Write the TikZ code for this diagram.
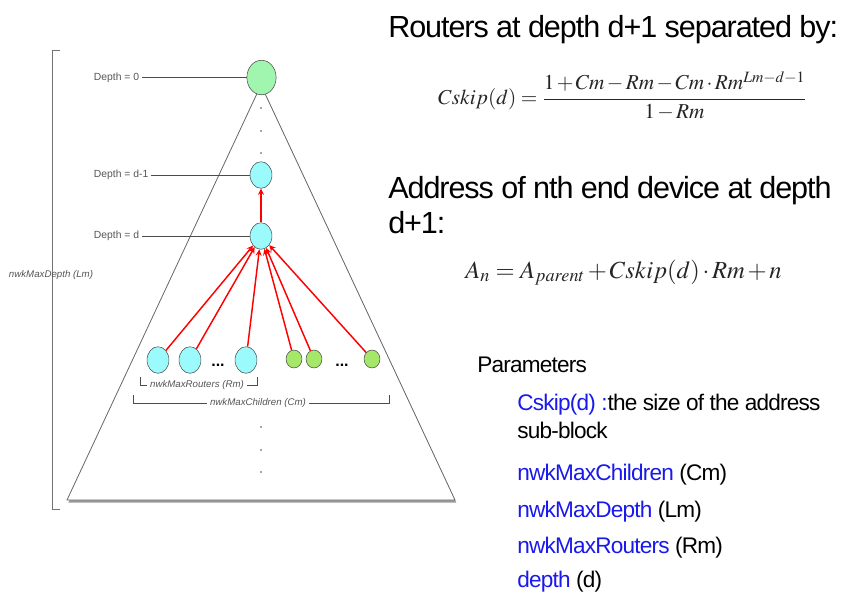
\documentclass[tikz,border=0pt]{standalone}
\usepackage{amsmath}
\usepackage{mathptmx}
\usepackage[no-math]{fontspec}
\setmainfont{Liberation Sans}
\newfontfamily\tightfont[LetterSpace=-3.5]{Liberation Sans}
\usetikzlibrary{shapes.geometric,shadows}
\definecolor{rootgreen}{RGB}{160,245,175}
\definecolor{routercyan}{RGB}{155,250,252}
\definecolor{endgreen}{RGB}{165,232,105}
\definecolor{paramblue}{RGB}{25,25,235}
\definecolor{labelgray}{RGB}{85,85,85}
\newcommand\tightmath{\medmuskip=2mu\relax\thickmuskip=4mu\relax}
\begin{document}
\begin{tikzpicture}[
    x=0.02646cm, y=-0.02646cm,
    dev/.style={ellipse,draw=black!70,inner sep=0pt},
    root/.style={dev,fill=rootgreen,minimum width=22pt,minimum height=26pt},
    router/.style={dev,fill=routercyan,minimum width=16.5pt,minimum height=20pt},
    enddev/.style={dev,fill=endgreen,minimum width=12pt,minimum height=13.5pt},
    depthlbl/.style={anchor=west,inner sep=2pt,text=labelgray,font=\fontsize{7.8}{9}\selectfont},
    brlbl/.style={inner sep=2pt,text=labelgray,font=\fontsize{7.3}{9}\selectfont\itshape},
    more/.style={inner sep=0pt,font=\fontsize{12}{14}\selectfont\bfseries},
    lead/.style={draw=black!70,line width=0.6pt},
    link/.style={->,red,line width=1.1pt},
    big/.style={anchor=base west,inner sep=0pt,font=\fontsize{23}{26}\selectfont\tightfont},
    param/.style={anchor=base west,inner sep=0pt,font=\fontsize{17}{20}\selectfont\tightfont},
    formula/.style={inner sep=0pt,text=black!85},
    >=stealth
]
\useasboundingbox (0,0) rectangle (844,596);

% tree outline
\filldraw[fill=white,draw=black!60,line width=0.6pt,
    drop shadow={shadow xshift=1pt,shadow yshift=-2pt,opacity=0.8}]
    (261,85) -- (67,500) -- (455,500) -- cycle;
\foreach \y in {108,131,153,427,450,472}
    \fill[black!70] (261,\y) circle (0.6pt);

% depth bracket
\draw[lead,draw=black!55] (60,50) -- (52,50) -- (52,509) -- (60,509);
\node[brlbl] (lm) at (51,275) {nwkMaxDepth (Lm)};

% devices
\node[root] (r0) at (261.5,77.5) {};
\node[router] (rp) at (261,175) {};
\node[router] (rd) at (261,236) {};
\node[router] (c1) at (158,360) {};
\node[router] (c2) at (190,360) {};
\node[more] (cdots) at (218,365) {...};
\node[router] (c3) at (246,360) {};
\node[enddev] (e1) at (294,359) {};
\node[enddev] (e2) at (314,359) {};
\node[more] (edots) at (342,365) {...};
\node[enddev] (e3) at (372,359) {};

\foreach \n in {c1,c2,c3,e1,e2,e3}
    \draw[link] (\n) -- (rd);
\draw[link] (rd) -- (rp);

% depth labels
\node[depthlbl] (l0) at (91,77.5) {Depth = 0};
\node[depthlbl] (lp) at (91,175) {Depth = d-1};
\node[depthlbl] (ld) at (91,236) {Depth = d};
\draw[lead] (l0) -- (r0);
\draw[lead] (lp) -- (rp);
\draw[lead] (ld) -- (rd);

% child brackets
\node[brlbl] (rt) at (197,385) {nwkMaxRouters (Rm)};
\draw[lead] (140,377) |- (rt.west);
\draw[lead] (rt.east) -| (257,377);
\node[brlbl] (ct) at (258,403) {nwkMaxChildren (Cm)};
\draw[lead] (133,395) |- (ct.west);
\draw[lead] (ct.east) -| (389,395);

% text on the right
\node[big] (t1) at (388,37) {Routers at depth d+1 separated by:};
\node[formula,anchor=west,font=\fontsize{16}{19}\selectfont\tightmath]
    (f1) at (438,96)
    {$Cskip(d)=\dfrac{1+Cm-Rm-Cm\cdot Rm^{Lm-d-1}}{1-Rm}$};
\node[big] (t2) at (388,198) {Address of nth end device at depth};
\node[big] (t3) at (388,233) {d+1:};
\node[formula,anchor=base west,font=\fontsize{18.5}{22}\selectfont\tightmath]
    (f2) at (465,278)
    {$A_n=A_{parent}+Cskip(d)\cdot Rm+n$};

\node[param] (p0) at (477,372) {Parameters};
\node[param] (p1) at (517,410) {\textcolor{paramblue}{Cskip(d) :}the size of the address};
\node[param] (p1b) at (517,438) {sub-block};
\node[param] (p2) at (517,480) {\textcolor{paramblue}{nwkMaxChildren} (Cm)};
\node[param] (p3) at (517,517) {\textcolor{paramblue}{nwkMaxDepth} (Lm)};
\node[param] (p4) at (517,553) {\textcolor{paramblue}{nwkMaxRouters} (Rm)};
\node[param] (p5) at (517,587) {\textcolor{paramblue}{depth} (d)};
\end{tikzpicture}
\end{document}
